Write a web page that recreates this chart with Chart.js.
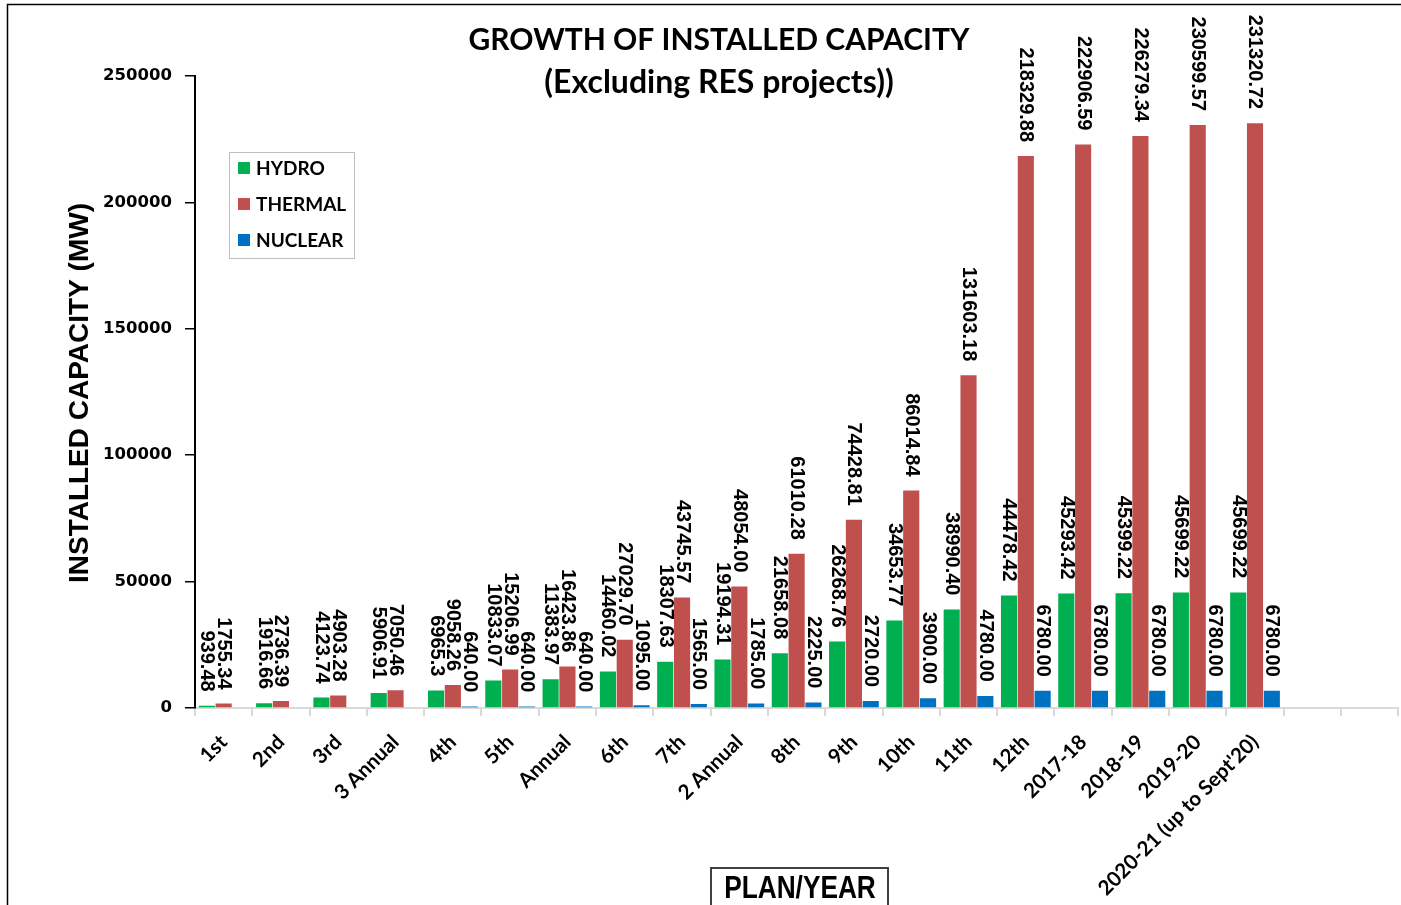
<!DOCTYPE html>
<html>
<head>
<meta charset="utf-8">
<script src="https://cdn.jsdelivr.net/npm/chart.js@4/dist/chart.umd.min.js"></script>
<style>
	body { margin: 0; background: #fff; }
	canvas { display: block; }
</style>
</head>
<body>
<canvas id="capacityChart" width="1401" height="905"></canvas>
<script>
// Plan / year categories (last two slots are empty in the original sheet)
const categories = ['1st', '2nd', '3rd', '3 Annual', '4th', '5th', 'Annual', '6th', '7th', '2 Annual',
	'8th', '9th', '10th', '11th', '12th', '2017-18', '2018-19', '2019-20', "2020-21 (up to Sept'20)", '', ''];

// Installed capacity in MW, kept as printed on the chart
const hydroMW = ['939.48', '1916.66', '4123.74', '5906.91', '6965.3', '10833.07', '11383.97', '14460.02',
	'18307.63', '19194.31', '21658.08', '26268.76', '34653.77', '38990.40', '44478.42', '45293.42',
	'45399.22', '45699.22', '45699.22'];
const thermalMW = ['1755.34', '2736.39', '4903.28', '7050.46', '9058.26', '15206.99', '16423.86', '27029.70',
	'43745.57', '48054.00', '61010.28', '74428.81', '86014.84', '131603.18', '218329.88', '222906.59',
	'226279.34', '230599.57', '231320.72'];
const nuclearMW = ['0', '0', '0', '0', '640.00', '640.00', '640.00', '1095.00', '1565.00', '1785.00',
	'2225.00', '2720.00', '3900.00', '4780.00', '6780.00', '6780.00', '6780.00', '6780.00', '6780.00'];

const seriesNames = ['HYDRO', 'THERMAL', 'NUCLEAR'];
const seriesColors = ['#00b050', '#c0504d', '#0070c0'];
const yTicks = [0, 50000, 100000, 150000, 200000, 250000];

const seriesText = [hydroMW, thermalMW, nuclearMW];

// Draws the frame, titles, legend and the rotated value labels
const decorations = {
	id: 'decorations',
	beforeDraw(chart) {
		const ctx = chart.ctx;
		ctx.save();
		ctx.strokeStyle = '#000';
		ctx.lineWidth = 1.5;
		ctx.beginPath();
		ctx.moveTo(7.5, 905);
		ctx.lineTo(7.5, 4.5);
		ctx.lineTo(1401, 4.5);
		ctx.stroke();
		ctx.restore();
	},
	afterDatasetsDraw(chart) {
		const ctx = chart.ctx;
		ctx.save();
		ctx.fillStyle = '#000';
		ctx.font = 'bold 20px "Liberation Sans", Arial, sans-serif';
		ctx.textAlign = 'right';
		ctx.textBaseline = 'middle';
		chart.data.datasets.forEach((ds, i) => {
			const meta = chart.getDatasetMeta(i);
			meta.data.forEach((bar, j) => {
				const text = seriesText[i][j];
				if (Number(text) === 0) return;
				ctx.save();
				ctx.translate(bar.x, bar.y - 14);
				ctx.rotate(Math.PI / 2);
				ctx.fillText(text, 0, 0);
				ctx.restore();
			});
		});
		ctx.restore();
	},
	afterDraw(chart) {
		const ctx = chart.ctx;
		ctx.save();
		ctx.fillStyle = '#000';

		// title
		ctx.textAlign = 'center';
		ctx.textBaseline = 'middle';
		ctx.font = 'bold 30px Lato, sans-serif';
		ctx.fillText('GROWTH OF INSTALLED CAPACITY', 719, 40);
		ctx.font = 'bold 32px Lato, sans-serif';
		ctx.fillText('(Excluding RES projects))', 719, 83);

		// y axis title
		ctx.save();
		ctx.translate(80, 393);
		ctx.rotate(-Math.PI / 2);
		ctx.font = 'bold 28px "Liberation Sans", Arial, sans-serif';
		ctx.fillText('INSTALLED CAPACITY (MW)', 0, 0);
		ctx.restore();

		// x axis title in its box
		ctx.strokeStyle = '#404040';
		ctx.lineWidth = 2;
		ctx.strokeRect(711, 868, 177, 44);
		ctx.save();
		ctx.translate(800, 889);
		ctx.scale(0.82, 1);
		ctx.font = 'bold 32px "Liberation Sans", Arial, sans-serif';
		ctx.fillText('PLAN/YEAR', 0, 0);
		ctx.restore();

		// legend
		ctx.fillStyle = '#fff';
		ctx.fillRect(229, 152, 125, 106);
		ctx.strokeStyle = '#bfbfbf';
		ctx.lineWidth = 1;
		ctx.strokeRect(229.5, 152.5, 125, 106);
		ctx.font = 'bold 19px Lato, sans-serif';
		ctx.textAlign = 'left';
		seriesNames.forEach((name, i) => {
			const y = 168 + i * 36;
			ctx.fillStyle = seriesColors[i];
			ctx.fillRect(238, y - 6, 12, 12);
			ctx.fillStyle = '#000';
			ctx.fillText(name, 256, y + 1);
		});
		ctx.restore();
	}
};

const ctx = document.getElementById('capacityChart').getContext('2d');

new Chart(ctx, {
	type: 'bar',
	data: {
		labels: categories,
		datasets: seriesText.map((values, i) => ({
			label: seriesNames[i],
			data: values.map(Number),
			backgroundColor: seriesColors[i],
			categoryPercentage: 0.88,
			barPercentage: 0.96,
		})),
	},
	options: {
		responsive: false,
		animation: false,
		devicePixelRatio: 1,
		layout: { padding: { top: 76, right: 0, left: 0, bottom: 0 } },
		plugins: {
			legend: { display: false },
			tooltip: { enabled: false },
		},
		scales: {
			x: {
				grid: { drawOnChartArea: false, color: '#d9d9d9', lineWidth: 2, tickLength: 8 },
				border: { color: '#d9d9d9', width: 2 },
				ticks: {
					autoSkip: false,
					maxRotation: 45,
					minRotation: 45,
					padding: 14,
					color: '#000',
					font: { family: 'Lato', weight: 'bold', size: 20.5 },
				},
				afterFit(scale) { scale.height = 197; },
			},
			y: {
				min: 0,
				max: 250000,
				afterBuildTicks(scale) { scale.ticks = yTicks.map((v) => ({ value: v })); },
				grid: { drawOnChartArea: false, color: '#000', lineWidth: 1.5, tickLength: 10 },
				border: { color: '#000', width: 2 },
				ticks: {
					padding: 13,
					color: '#000',
					font: { family: 'DejaVu Sans', weight: 'bold', size: 16.5 },
					callback: (value) => String(value),
				},
				afterFit(scale) { scale.width = 195; },
			},
		},
	},
	plugins: [decorations],
});
</script>
</body>
</html>
